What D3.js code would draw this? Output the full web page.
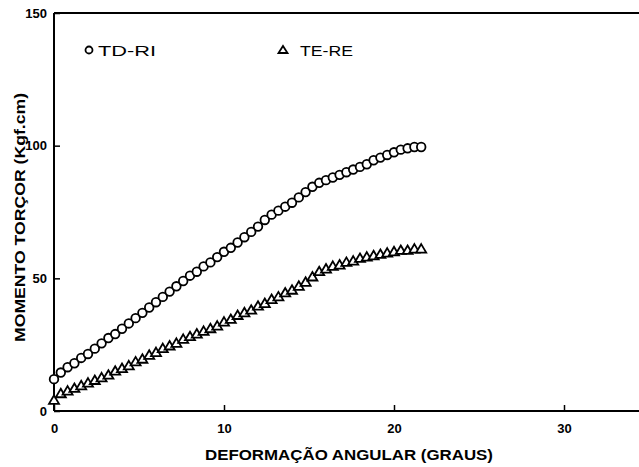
<!DOCTYPE html>
<html>
<head>
<meta charset="utf-8">
<script src="https://cdn.jsdelivr.net/npm/d3@7"></script>
<style>
  body { margin: 0; background: #fff; }
  svg { display: block; }
  text { font-family: 'Liberation Sans', Arial, sans-serif; fill: #000; }
  .tick text { font-size: 13px; font-weight: bold; }
</style>
</head>
<body>
<script>
var w = 639;
var h = 467;

// deformacao angular (graus)
var xTD = [0, 0.4, 0.8, 1.2, 1.6, 2.0, 2.4, 2.8, 3.2, 3.6, 4.0, 4.4, 4.8, 5.2, 5.6, 6.0, 6.4, 6.8, 7.2, 7.6,
  8.0, 8.4, 8.8, 9.2, 9.6, 10.0, 10.4, 10.8, 11.2, 11.6, 12.0, 12.4, 12.8, 13.2, 13.6, 14.0, 14.4, 14.8, 15.2, 15.6,
  16.0, 16.4, 16.8, 17.2, 17.6, 18.0, 18.4, 18.8, 19.2, 19.6, 20.0, 20.4, 20.8, 21.2, 21.6];
// momento torcor (Kgf.cm), TD-RI
var yTD = [12, 14.5, 16.5, 18, 20, 21.5, 23.5, 25.5, 27.5, 29, 31, 33, 35, 37, 39, 41, 43, 45, 47, 49,
  51, 52.5, 54.5, 56, 58, 60, 61.5, 63.5, 65.5, 67.5, 69.5, 72, 74, 75.5, 77, 78.5, 80.5, 82.5, 84.5, 86,
  87, 88, 89, 90, 91, 92, 93, 94.5, 95.5, 96.5, 97.5, 98.5, 99, 99.5, 99.5];

var xTE = [0, 0.4, 0.8, 1.2, 1.6, 2.0, 2.4, 2.8, 3.2, 3.6, 4.0, 4.4, 4.8, 5.2, 5.6, 6.0, 6.4, 6.8, 7.2, 7.6,
  8.0, 8.4, 8.8, 9.2, 9.6, 10.0, 10.4, 10.8, 11.2, 11.6, 12.0, 12.4, 12.8, 13.2, 13.6, 14.0, 14.4, 14.8, 15.2, 15.6,
  16.0, 16.4, 16.8, 17.2, 17.6, 18.0, 18.4, 18.8, 19.2, 19.6, 20.0, 20.4, 20.8, 21.2, 21.6];
// TE-RE
var yTE = [4, 6.5, 7.5, 8.5, 9.5, 10.5, 11.5, 12.5, 13.5, 15, 16, 17, 18.5, 19.5, 21, 22, 23.5, 24.5, 25.5, 27,
  28, 29, 30, 31, 32, 33.5, 34.5, 36, 37, 38, 39.5, 40.5, 42, 43, 44.5, 45.5, 47, 48.5, 50.5, 52.5,
  53.5, 54.5, 55, 56, 56.5, 57.5, 58, 58.5, 59, 59.5, 60, 60.5, 60.5, 61, 61];

var xTicks = [0, 10, 20, 30];
var yTicks = [0, 50, 100, 150];

var x = d3.scaleLinear().domain([0, 30]).range([54, 564]);
var y = d3.scaleLinear().domain([0, 150]).range([411, 13]);

var svg = d3.select('body')
  .append('svg')
  .attr('width', w)
  .attr('height', h);

// frame
svg.append('line')
  .attr('x1', x(0)).attr('x2', w)
  .attr('y1', y(0)).attr('y2', y(0))
  .style('stroke', '#000').style('stroke-width', 2);
svg.append('line')
  .attr('x1', x(0)).attr('x2', w)
  .attr('y1', y(150)).attr('y2', y(150))
  .style('stroke', '#000').style('stroke-width', 2);
svg.append('line')
  .attr('x1', x(0)).attr('x2', x(0))
  .attr('y1', y(0)).attr('y2', y(150))
  .style('stroke', '#000').style('stroke-width', 2);

var xAxis = svg.append('g')
  .attr('transform', 'translate(0,' + y(0) + ')')
  .call(d3.axisBottom(x).tickValues(xTicks).tickSize(-6).tickPadding(13));
xAxis.select('.domain').remove();
xAxis.selectAll('.tick line').style('stroke-width', 1.5);

var yAxis = svg.append('g')
  .attr('transform', 'translate(' + x(0) + ',0)')
  .call(d3.axisLeft(y).tickValues(yTicks).tickSize(-6).tickPadding(7));
yAxis.select('.domain').remove();
yAxis.selectAll('.tick line').style('stroke-width', 1.5);

// axis titles
svg.append('text')
  .attr('x', 205)
  .attr('y', 460)
  .attr('textLength', 288)
  .attr('lengthAdjust', 'spacingAndGlyphs')
  .style('font-size', '14px')
  .style('font-weight', 'bold')
  .text('DEFORMAÇÃO ANGULAR (GRAUS)');

svg.append('text')
  .attr('transform', 'translate(25,342) rotate(-90)')
  .attr('textLength', 249)
  .attr('lengthAdjust', 'spacingAndGlyphs')
  .style('font-size', '14px')
  .style('font-weight', 'bold')
  .text('MOMENTO TORÇOR (Kgf.cm)');

// data
var tdData = xTD.map(function(d, i) { return [d, yTD[i]]; });
var teData = xTE.map(function(d, i) { return [d, yTE[i]]; });

var tri = 'M0,-5L5,3.5L-5,3.5Z';

svg.append('g').selectAll('path')
  .data(teData)
  .enter().append('path')
    .attr('d', tri)
    .attr('transform', function(d) { return 'translate(' + x(d[0]) + ',' + y(d[1]) + ')'; })
    .style('fill', '#fff')
    .style('stroke', '#000')
    .style('stroke-width', 1.8);

svg.append('g').selectAll('circle')
  .data(tdData)
  .enter().append('circle')
    .attr('cx', function(d) { return x(d[0]); })
    .attr('cy', function(d) { return y(d[1]); })
    .attr('r', 4.3)
    .style('fill', '#fff')
    .style('stroke', '#000')
    .style('stroke-width', 1.8);

// legend
svg.append('circle')
  .attr('cx', 89).attr('cy', 50).attr('r', 3.5)
  .style('fill', '#fff').style('stroke', '#000').style('stroke-width', 1.8);
svg.append('text')
  .attr('x', 98).attr('y', 56)
  .attr('textLength', 58)
  .attr('lengthAdjust', 'spacingAndGlyphs')
  .style('font-size', '15px')
  .text('TD-RI');

svg.append('path')
  .attr('d', 'M0,-4L4.5,3L-4.5,3Z')
  .attr('transform', 'translate(283,50)')
  .style('fill', '#fff').style('stroke', '#000').style('stroke-width', 1.8);
svg.append('text')
  .attr('x', 300).attr('y', 56)
  .attr('textLength', 53)
  .attr('lengthAdjust', 'spacingAndGlyphs')
  .style('font-size', '15px')
  .text('TE-RE');
</script>
</body>
</html>
